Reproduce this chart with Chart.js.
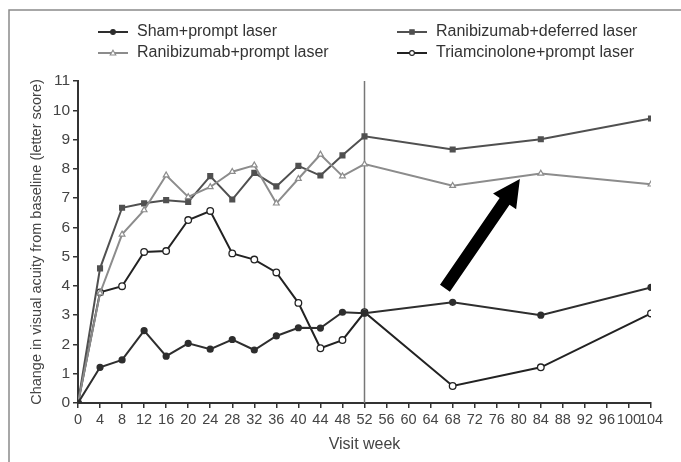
<!DOCTYPE html>
<html>
<head>
<meta charset="utf-8">
<script src="https://cdn.jsdelivr.net/npm/chart.js@4/dist/chart.umd.min.js"></script>
<style>
  html, body { margin: 0; padding: 0; background: #fff; }
  canvas { display: block; }
</style>
</head>
<body>
<canvas id="chart" width="681" height="462"></canvas>
<script>
// visit weeks and change in visual acuity (letter score)
const weeks = [0, 4, 8, 12, 16, 20, 24, 28, 32, 36, 40, 44, 48, 52, 68, 84, 104];
const shamPrompt = [0, 1.22, 1.47, 2.47, 1.6, 2.04, 1.84, 2.17, 1.81, 2.29, 2.57, 2.56, 3.1, 3.07, 3.44, 3.0, 3.95];
const raniDeferred = [0, 4.6, 6.67, 6.82, 6.93, 6.87, 7.75, 6.95, 7.86, 7.4, 8.1, 7.77, 8.46, 9.11, 8.66, 9.01, 9.72];
const raniPrompt = [0, 3.75, 5.76, 6.59, 7.78, 7.04, 7.38, 7.9, 8.12, 6.82, 7.66, 8.49, 7.75, 8.16, 7.42, 7.84, 7.47];
const triamPrompt = [0, 3.78, 3.99, 5.16, 5.19, 6.25, 6.56, 5.11, 4.9, 4.46, 3.42, 1.87, 2.15, 3.1, 0.58, 1.22, 3.06];

const seriesNames = ["Sham+prompt laser", "Ranibizumab+prompt laser", "Ranibizumab+deferred laser", "Triamcinolone+prompt laser"];

// week 52 marker line and the arrow (data coordinates: week, letters)
const markerWeek = 52;
const yRange = [0, 11];
const arrowFrom = [66.6, 3.92];
const arrowTo = [80.2, 7.65];

const FONT = "'Liberation Sans', Arial, sans-serif";
const pts = arr => arr.map((v, i) => ({ x: weeks[i], y: v }));

// frame, legend and arrow drawn on the canvas
const extras = {
  id: "extras",
  beforeDraw(chart) {
    const ctx = chart.ctx;
    ctx.save();
    ctx.strokeStyle = "#8a8a8a";
    ctx.lineWidth = 1.5;
    ctx.beginPath();
    ctx.moveTo(9, 462);
    ctx.lineTo(9, 10);
    ctx.lineTo(681, 10);
    ctx.stroke();
    ctx.restore();
  },
  afterDatasetsDraw(chart) {
    const ctx = chart.ctx;
    const xs = chart.scales.x, ys = chart.scales.y;

    // arrow
    const x0 = xs.getPixelForValue(arrowFrom[0]), y0 = ys.getPixelForValue(arrowFrom[1]);
    const x1 = xs.getPixelForValue(arrowTo[0]), y1 = ys.getPixelForValue(arrowTo[1]);
    const ang = Math.atan2(y1 - y0, x1 - x0);
    const len = Math.hypot(x1 - x0, y1 - y0);
    const headLen = 27, headW = 14, shaftW = 6;
    ctx.save();
    ctx.translate(x0, y0);
    ctx.rotate(ang);
    ctx.fillStyle = "#000";
    ctx.beginPath();
    ctx.moveTo(0, -shaftW);
    ctx.lineTo(len - headLen, -shaftW);
    ctx.lineTo(len - headLen, -headW);
    ctx.lineTo(len, 0);
    ctx.lineTo(len - headLen, headW);
    ctx.lineTo(len - headLen, shaftW);
    ctx.lineTo(0, shaftW);
    ctx.closePath();
    ctx.fill();
    ctx.restore();

    // legend
    const slots = [
      { ds: 0, x: 98, y: 32 },
      { ds: 1, x: 98, y: 53 },
      { ds: 2, x: 397, y: 32 },
      { ds: 3, x: 397, y: 53 }
    ];
    ctx.save();
    for (const s of slots) {
      const d = chart.data.datasets[s.ds];
      const mx = s.x + 15;
      ctx.strokeStyle = d.borderColor;
      ctx.lineWidth = 2;
      ctx.beginPath();
      ctx.moveTo(s.x, s.y);
      ctx.lineTo(s.x + 30, s.y);
      ctx.stroke();
      ctx.fillStyle = d.pointBackgroundColor;
      ctx.strokeStyle = d.pointBorderColor;
      ctx.lineWidth = 1.1;
      ctx.beginPath();
      if (d.pointStyle === "circle") ctx.arc(mx, s.y, 2.4, 0, Math.PI * 2);
      else if (d.pointStyle === "rect") ctx.rect(mx - 2.2, s.y - 2.2, 4.4, 4.4);
      else { ctx.moveTo(mx, s.y - 2.8); ctx.lineTo(mx + 2.8, s.y + 2); ctx.lineTo(mx - 2.8, s.y + 2); ctx.closePath(); }
      ctx.fill();
      ctx.stroke();
      ctx.fillStyle = "#333";
      ctx.font = "16px " + FONT;
      ctx.textBaseline = "middle";
      ctx.fillText(seriesNames[s.ds], s.x + 39, s.y);
    }
    ctx.restore();
  }
};

new Chart(document.getElementById("chart"), {
  type: "line",
  data: {
    datasets: [
      {
        label: seriesNames[0],
        data: pts(shamPrompt),
        borderColor: "#2e2e2e",
        borderWidth: 2,
        pointStyle: "circle",
        pointRadius: 2.6,
        pointBackgroundColor: "#2e2e2e",
        pointBorderColor: "#2e2e2e",
        tension: 0
      },
      {
        label: seriesNames[1],
        data: pts(raniPrompt),
        borderColor: "#8c8c8c",
        borderWidth: 2,
        pointStyle: "triangle",
        pointRadius: 3.3,
        pointBackgroundColor: "#fff",
        pointBorderColor: "#8c8c8c",
        pointBorderWidth: 1.2,
        tension: 0
      },
      {
        label: seriesNames[2],
        data: pts(raniDeferred),
        borderColor: "#505050",
        borderWidth: 2,
        pointStyle: "rect",
        pointRadius: 2.9,
        pointBackgroundColor: "#505050",
        pointBorderColor: "#505050",
        tension: 0
      },
      {
        label: seriesNames[3],
        data: pts(triamPrompt),
        borderColor: "#222",
        borderWidth: 2,
        pointStyle: "circle",
        pointRadius: 3.3,
        pointBackgroundColor: "#fff",
        pointBorderColor: "#222",
        pointBorderWidth: 1.3,
        tension: 0
      },
      {
        label: "week 52",
        data: yRange.map(v => ({ x: markerWeek, y: v })),
        borderColor: "#777",
        borderWidth: 1.5,
        pointRadius: 0
      }
    ]
  },
  options: {
    responsive: false,
    animation: false,
    devicePixelRatio: 1,
    layout: { padding: { left: 0, top: 81, right: 30, bottom: 0 } },
    plugins: { legend: { display: false }, tooltip: { enabled: false } },
    scales: {
      x: {
        type: "linear",
        min: 0,
        max: 104,
        afterFit: s => { s.height = 59; },
        ticks: {
          stepSize: 4,
          autoSkip: false,
          maxRotation: 0,
          padding: 3,
          color: "#444",
          font: { family: FONT, size: 14.5 }
        },
        grid: { drawOnChartArea: false, drawTicks: true, tickLength: 5, color: "#333", lineWidth: 1.5 },
        border: { color: "#333", width: 2 },
        title: {
          display: true,
          text: "Visit week",
          color: "#444",
          font: { family: FONT, size: 16 },
          padding: { top: 0, bottom: 8 }
        }
      },
      y: {
        min: 0,
        max: 11,
        afterFit: s => { s.width = 78; },
        ticks: {
          stepSize: 1,
          padding: 3,
          color: "#444",
          font: { family: FONT, size: 15.5 }
        },
        grid: { drawOnChartArea: false, drawTicks: true, tickLength: 5, color: "#333", lineWidth: 1.5 },
        border: { color: "#333", width: 2 },
        title: {
          display: true,
          text: "Change in visual acuity from baseline (letter score)",
          color: "#444",
          font: { family: FONT, size: 14.5 },
          padding: { top: 28, bottom: 0 }
        }
      }
    }
  },
  plugins: [extras]
});
</script>
</body>
</html>
